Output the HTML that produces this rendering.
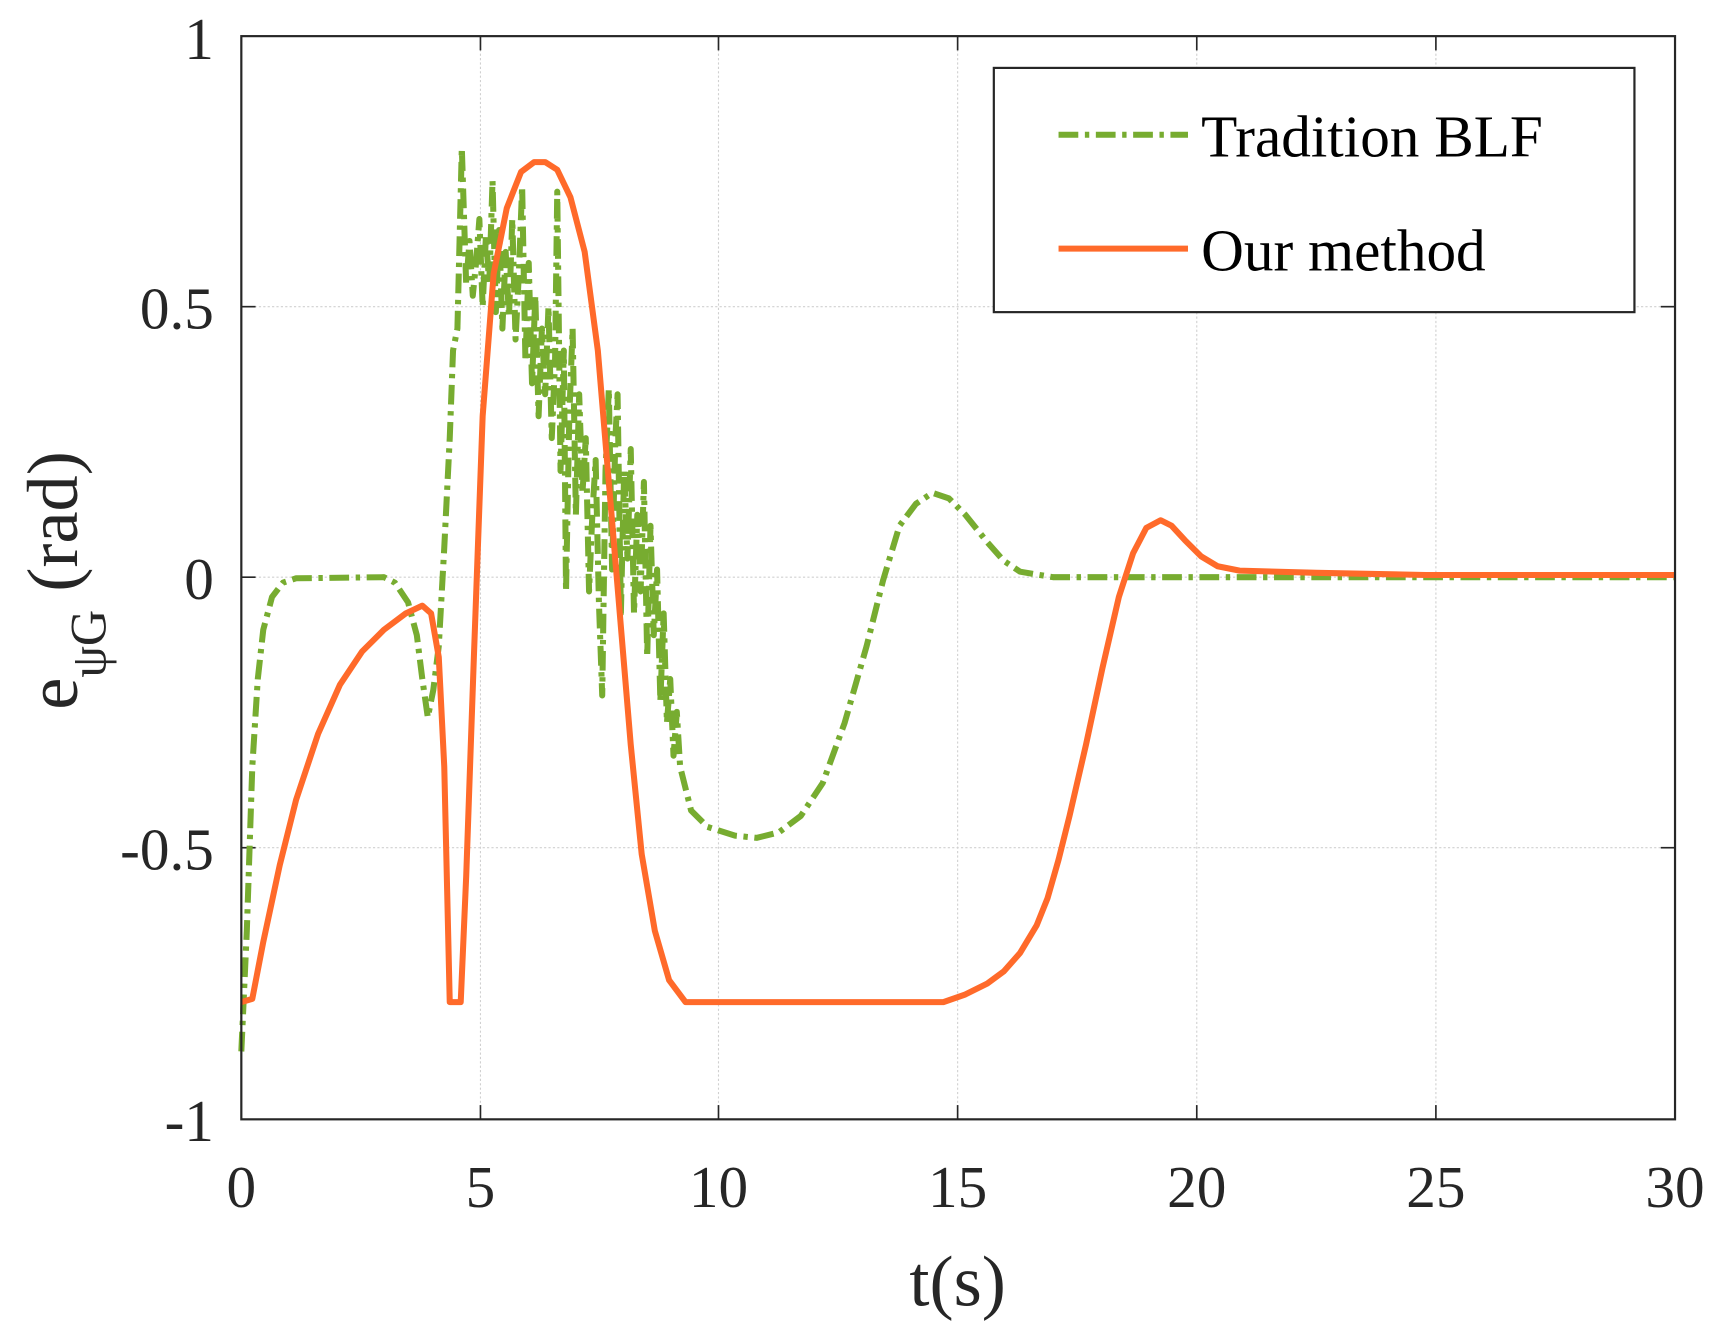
<!DOCTYPE html>
<html><head><meta charset="utf-8"><style>html,body{margin:0;padding:0;background:#fff}svg{display:block}</style></head>
<body>
<svg width="1720" height="1334" viewBox="0 0 1568 1218" preserveAspectRatio="none" xmlns="http://www.w3.org/2000/svg" font-family="Liberation Serif, serif" fill="#262626">
<rect width="1568" height="1218" fill="#fff"/>
<g stroke="#d0d0d0" stroke-width="1" stroke-dasharray="2,2">
<line x1="438" y1="33" x2="438" y2="1022"/><line x1="655" y1="33" x2="655" y2="1022"/><line x1="873" y1="33" x2="873" y2="1022"/><line x1="1091" y1="33" x2="1091" y2="1022"/><line x1="1309" y1="33" x2="1309" y2="1022"/>
<line x1="220" y1="280" x2="1527" y2="280"/><line x1="220" y1="527" x2="1527" y2="527"/><line x1="220" y1="774" x2="1527" y2="774"/>
</g>
<g stroke="#262626" stroke-width="1.5">
<line x1="438" y1="1022" x2="438" y2="1009"/><line x1="655" y1="1022" x2="655" y2="1009"/><line x1="873" y1="1022" x2="873" y2="1009"/><line x1="1091" y1="1022" x2="1091" y2="1009"/><line x1="1309" y1="1022" x2="1309" y2="1009"/>
<line x1="438" y1="33" x2="438" y2="46"/><line x1="655" y1="33" x2="655" y2="46"/><line x1="873" y1="33" x2="873" y2="46"/><line x1="1091" y1="33" x2="1091" y2="46"/><line x1="1309" y1="33" x2="1309" y2="46"/>
<line x1="220" y1="280" x2="233" y2="280"/><line x1="220" y1="527" x2="233" y2="527"/><line x1="220" y1="774" x2="233" y2="774"/>
<line x1="1527" y1="280" x2="1514" y2="280"/><line x1="1527" y1="527" x2="1514" y2="527"/><line x1="1527" y1="774" x2="1514" y2="774"/>
</g>
<g fill="none" stroke-linejoin="round">
<path stroke="#77AC30" stroke-width="5.5" stroke-dasharray="18,6,4,6" d="M220,960 L225,850 L230,700 L235,620 L240,575 L248,545 L258,532 L270,528 L350,527 L360,532 L372,550 L380,580 L385,620 L390,655 L395,630 L400,590 L405,500 L410,400 L413,320 L417,300 L421,135 L425,260 L428,220 L431,270 L434,240 L437,200 L440,280 L443,215 L446,260 L449,165 L452,285 L455,210 L458,300 L461,230 L464,290 L467,200 L470,310 L473,250 L476,170 L479,330 L482,240 L485,350 L488,270 L491,380 L494,300 L497,360 L500,280 L503,400 L506,330 L508,175 L511,430 L514,320 L516,540 L519,380 L522,300 L525,470 L528,360 L531,450 L534,400 L537,540 L540,470 L543,420 L546,550 L549,635 L552,430 L555,355 L558,520 L561,400 L563,360 L566,560 L569,430 L572,510 L575,410 L578,560 L581,470 L584,540 L587,440 L590,600 L593,480 L596,580 L599,520 L602,640 L605,560 L608,660 L611,620 L614,690 L617,650 L620,700 L630,740 L645,755 L670,763 L690,765 L710,760 L730,745 L750,715 L770,660 L790,590 L805,530 L820,480 L835,460 L850,450 L865,455 L880,470 L900,495 L915,512 L930,522 L960,527 L1527,527"/>
<path stroke="#FF6A2A" stroke-width="5.5" d="M220,915 L230,912 L240,860 L255,790 L270,730 L290,670 L310,625 L330,595 L350,575 L370,560 L385,553 L393,560 L400,600 L405,700 L410,915 L420,915 L425,800 L432,600 L440,380 L450,250 L462,190 L475,157 L487,148 L497,148 L508,155 L520,180 L533,230 L545,320 L555,440 L565,560 L575,680 L585,780 L597,850 L610,895 L625,915 L860,915 L880,908 L900,898 L915,887 L930,870 L945,845 L955,820 L965,785 L975,745 L990,680 L1005,610 L1020,545 L1033,505 L1045,482 L1058,475 L1068,480 L1080,493 L1095,508 L1110,517 L1130,521 L1200,523 L1300,525 L1527,525"/>
</g>
<rect x="220" y="33" width="1307" height="989" fill="none" stroke="#262626" stroke-width="2"/>
<rect x="906" y="62" width="584" height="223" fill="#fff" stroke="#262626" stroke-width="2"/>
<line x1="965" y1="123" x2="1083" y2="123" stroke="#77AC30" stroke-width="5.5" stroke-dasharray="18,6,4,6"/>
<line x1="965" y1="227" x2="1083" y2="227" stroke="#FF6A2A" stroke-width="5.5"/>
<g font-size="54" fill="#000">
<text x="1095" y="143">Tradition BLF</text>
<text x="1095" y="247">Our method</text>
</g>
<g font-size="54" text-anchor="end">
<text x="195" y="54">1</text><text x="195" y="300">0.5</text><text x="195" y="547">0</text><text x="195" y="794">-0.5</text><text x="195" y="1042">-1</text>
</g>
<g font-size="54" text-anchor="middle">
<text x="220" y="1102">0</text><text x="438" y="1102">5</text><text x="655" y="1102">10</text><text x="873" y="1102">15</text><text x="1091" y="1102">20</text><text x="1309" y="1102">25</text><text x="1527" y="1102">30</text>
</g>
<text x="873" y="1192" font-size="66" text-anchor="middle">t(s)</text>
<text transform="translate(70,530) rotate(-90)" font-size="66" text-anchor="middle">e<tspan font-size="46" dy="26">ψG</tspan><tspan dy="-26"> (rad)</tspan></text>
</svg>
</body></html>
